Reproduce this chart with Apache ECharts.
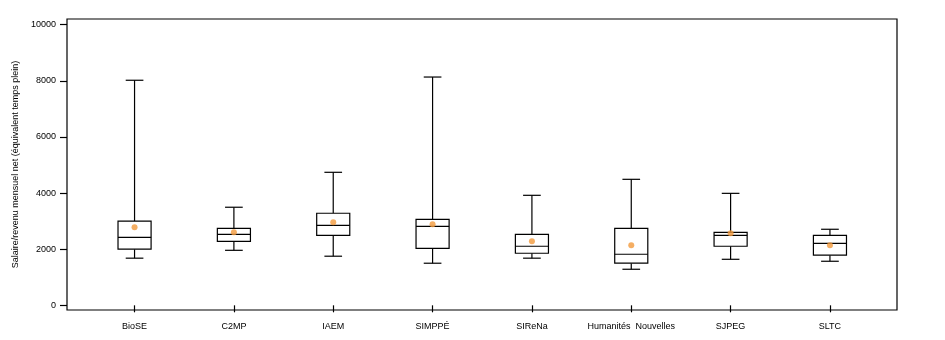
<!DOCTYPE html>
<html>
<head>
<meta charset="utf-8">
<script src="https://cdn.jsdelivr.net/npm/echarts@6/dist/echarts.min.js"></script>
<style>html,body{margin:0;padding:0;background:#fff}#c{width:945px;height:340px}</style>
</head>
<body>
<div id="c"></div>
<script>
var categories = ['BioSE', 'C2MP', 'IAEM', 'SIMPPÉ', 'SIReNa', 'Humanités  Nouvelles', 'SJPEG', 'SLTC'];
var whiskerLow = [1680, 1960, 1750, 1500, 1680, 1285, 1640, 1570];
var q1 = [2000, 2280, 2495, 2030, 1855, 1500, 2105, 1785];
var median = [2420, 2530, 2850, 2815, 2105, 1820, 2495, 2210];
var q3 = [3000, 2745, 3280, 3065, 2530, 2745, 2600, 2495];
var whiskerHigh = [8020, 3495, 4740, 8135, 3920, 4490, 3990, 2710];
var means = [2780, 2600, 2960, 2890, 2280, 2140, 2565, 2140];
var yTicks = [0, 2000, 4000, 6000, 8000, 10000];
var yTitle = 'Salaire/revenu mensuel net (équivalent temps plein)';

var positions = categories.map(function (c, i) { return i + 1; });
var boxData = categories.map(function (c, i) {
  return [i + 1, whiskerLow[i], q1[i], median[i], q3[i], whiskerHigh[i]];
});
var meanData = categories.map(function (c, i) { return [i + 1, means[i]]; });

var BOX_W = 0.333, CAP_W = 0.178;
var LW = 1.2;
var lineStyle = { stroke: '#000', lineWidth: LW, fill: null };

function renderBox(params, api) {
  var x = api.value(0);
  var pLow = api.coord([x, api.value(1)]);
  var pQ1 = api.coord([x, api.value(2)]);
  var pMed = api.coord([x, api.value(3)]);
  var pQ3 = api.coord([x, api.value(4)]);
  var pHigh = api.coord([x, api.value(5)]);
  var bw = api.size([BOX_W, 0])[0];
  var cw = api.size([CAP_W, 0])[0];
  var cx = pMed[0];
  function line(x1, y1, x2, y2) {
    return { type: 'line', shape: { x1: x1, y1: y1, x2: x2, y2: y2 }, style: lineStyle };
  }
  return {
    type: 'group',
    children: [
      line(cx, pHigh[1], cx, pQ3[1]),
      line(cx, pQ1[1], cx, pLow[1]),
      line(cx - cw / 2, pHigh[1], cx + cw / 2, pHigh[1]),
      line(cx - cw / 2, pLow[1], cx + cw / 2, pLow[1]),
      { type: 'rect', shape: { x: cx - bw / 2, y: pQ3[1], width: bw, height: pQ1[1] - pQ3[1] },
        style: { stroke: '#000', lineWidth: LW, fill: '#fff' } },
      line(cx - bw / 2, pMed[1], cx + bw / 2, pMed[1])
    ]
  };
}

var chart = echarts.init(document.getElementById('c'), null, { renderer: 'canvas' });
chart.setOption({
  animation: false,
  backgroundColor: '#fff',
  textStyle: { fontFamily: 'Liberation Sans, Arial, sans-serif' },
  grid: { left: 67, top: 19, width: 830, height: 291, show: true, borderColor: '#000', borderWidth: LW, backgroundColor: 'transparent' },
  xAxis: {
    type: 'value', min: 0.32, max: 8.675,
    splitLine: { show: false },
    axisLine: { show: false },
    axisTick: { show: true, customValues: positions, length: 7, lineStyle: { color: '#000', width: LW } },
    axisLabel: { customValues: positions, margin: 12, color: '#000', fontSize: 9,
      fontFamily: 'Liberation Sans, Arial, sans-serif',
      formatter: function (v) { return categories[Math.round(v) - 1] || ''; } }
  },
  yAxis: {
    type: 'value', min: -167, max: 10203,
    name: yTitle, nameLocation: 'middle', nameGap: 47, nameRotate: 90,
    nameTextStyle: { color: '#000', fontSize: 9, fontFamily: 'Liberation Sans, Arial, sans-serif' },
    splitLine: { show: false },
    axisLine: { show: false },
    axisTick: { show: true, customValues: yTicks, length: 7, lineStyle: { color: '#000', width: LW } },
    axisLabel: { customValues: yTicks, margin: 11, color: '#000', fontSize: 9,
      fontFamily: 'Liberation Sans, Arial, sans-serif',
      formatter: function (v) { return String(v); } }
  },
  series: [
    { type: 'custom', renderItem: renderBox, data: boxData, encode: { x: 0, y: [1, 2, 3, 4, 5] }, z: 2 },
    { type: 'scatter', data: meanData, symbol: 'circle', symbolSize: 6,
      itemStyle: { color: '#F39A3C' }, z: 3 }
  ]
});
</script>
</body>
</html>
